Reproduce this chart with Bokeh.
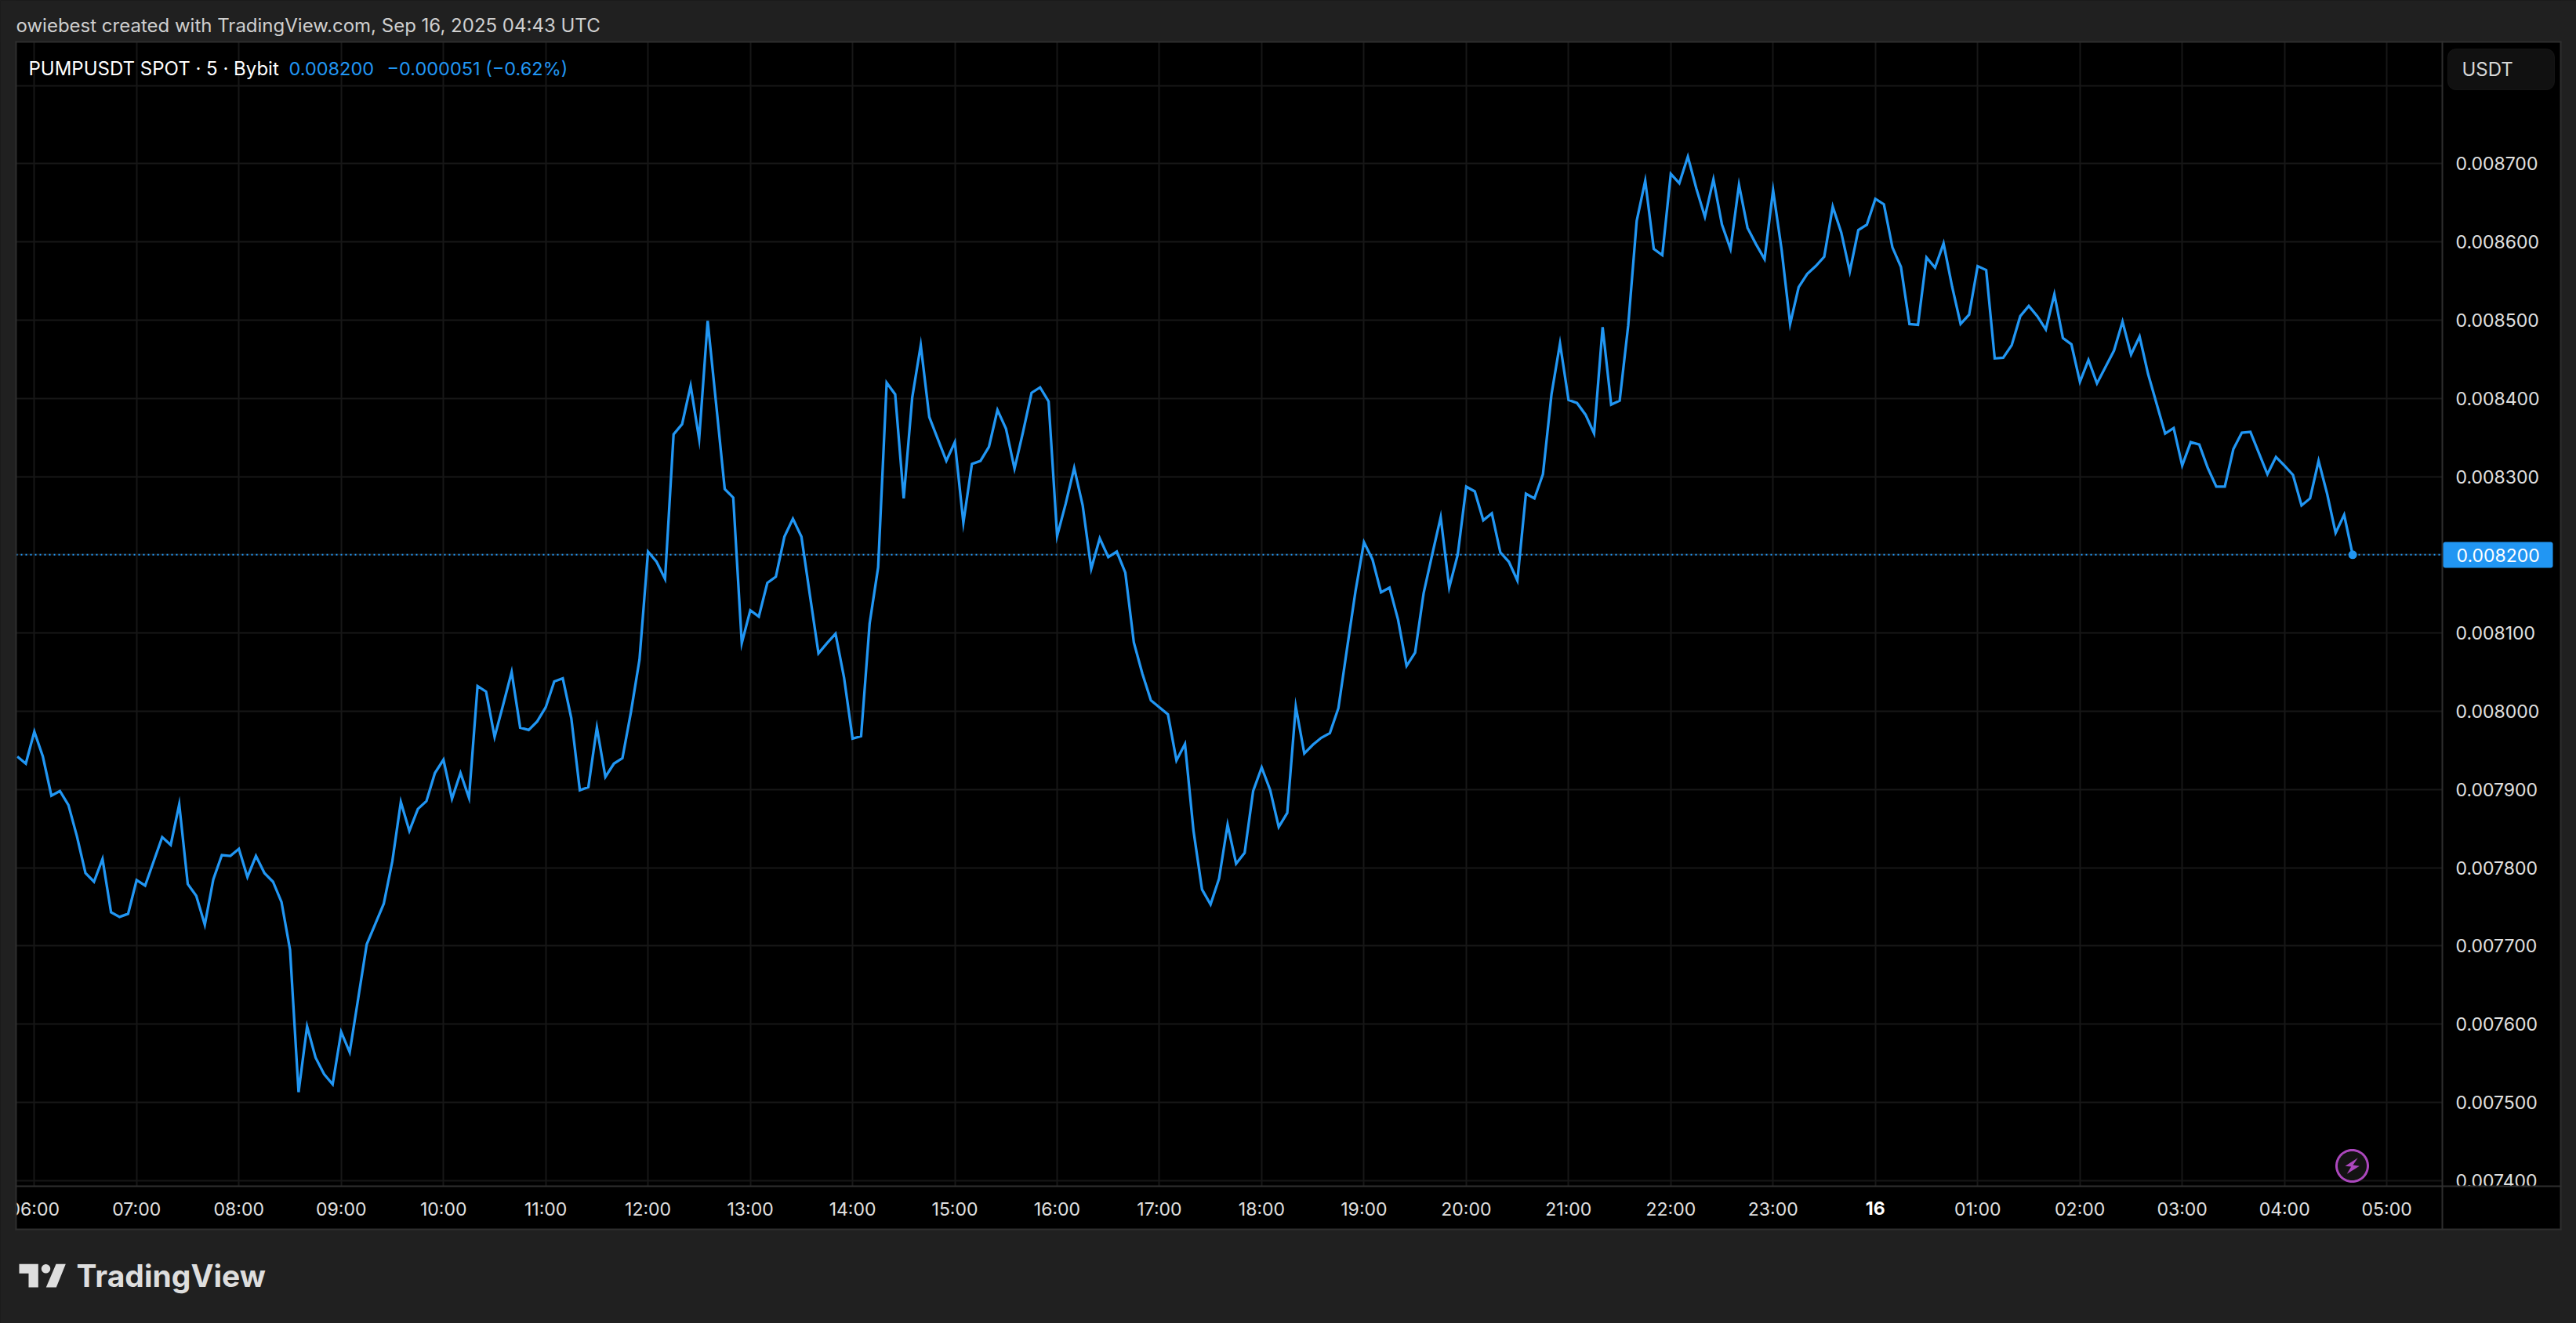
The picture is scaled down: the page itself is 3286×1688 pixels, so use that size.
import numpy as np
import pandas as pd
from bokeh.embed import file_html
from bokeh.models import (BoxAnnotation, ColumnDataSource, FixedTicker, Label, PolyAnnotation,
                          PrintfTickFormatter, Range1d, Span)
from bokeh.plotting import figure
from bokeh.resources import INLINE

# ---------- data (5-minute closes, starting 05:50 on Sep 15) ----------
start_time = "2025-09-15 05:50"
close = [
    0.007942, 0.007933, 0.007974, 0.007942, 0.007892, 0.007898, 0.007880, 0.007840, 0.007793, 0.007782,
    0.007811, 0.007743, 0.007737, 0.007741, 0.007784, 0.007777, 0.007808, 0.007839, 0.007829, 0.007881,
    0.007779, 0.007764, 0.007727, 0.007785, 0.007816, 0.007815, 0.007824, 0.007788, 0.007815, 0.007793,
    0.007782, 0.007756, 0.007695, 0.007513, 0.007597, 0.007557, 0.007536, 0.007523, 0.007590, 0.007564,
    0.007633, 0.007702, 0.007728, 0.007754, 0.007808, 0.007884, 0.007847, 0.007875, 0.007885, 0.007921,
    0.007938, 0.007888, 0.007921, 0.007889, 0.008032, 0.008025, 0.007967, 0.008008, 0.008050, 0.007979,
    0.007976, 0.007987, 0.008005, 0.008038, 0.008042, 0.007991, 0.007899, 0.007903, 0.007979, 0.007916,
    0.007933, 0.007940, 0.007999, 0.008066, 0.008204, 0.008191, 0.008169, 0.008354, 0.008367, 0.008416,
    0.008348, 0.008499, 0.008392, 0.008284, 0.008273, 0.008087, 0.008129, 0.008121, 0.008164, 0.008172,
    0.008223, 0.008246, 0.008223, 0.008148, 0.008074, 0.008087, 0.008099, 0.008043, 0.007965, 0.007968,
    0.008112, 0.008184, 0.008420, 0.008405, 0.008272, 0.008401, 0.008468, 0.008376, 0.008348, 0.008320,
    0.008344, 0.008241, 0.008316, 0.008320, 0.008338, 0.008385, 0.008361, 0.008310, 0.008357, 0.008407,
    0.008414, 0.008396, 0.008224, 0.008265, 0.008311, 0.008263, 0.008182, 0.008221, 0.008197, 0.008204,
    0.008177, 0.008088, 0.008048, 0.008014, 0.008005, 0.007996, 0.007937, 0.007958, 0.007847, 0.007772,
    0.007753, 0.007786, 0.007855, 0.007805, 0.007819, 0.007898, 0.007928, 0.007899, 0.007852, 0.007870,
    0.008006, 0.007946, 0.007957, 0.007966, 0.007972, 0.008004, 0.008079, 0.008153, 0.008216, 0.008194,
    0.008152, 0.008158, 0.008117, 0.008058, 0.008075, 0.008151, 0.008200, 0.008248, 0.008158, 0.008200,
    0.008287, 0.008281, 0.008244, 0.008253, 0.008203, 0.008191, 0.008167, 0.008278, 0.008272, 0.008303,
    0.008405, 0.008470, 0.008398, 0.008394, 0.008379, 0.008355, 0.008491, 0.008392, 0.008397, 0.008493,
    0.008627, 0.008678, 0.008591, 0.008583, 0.008687, 0.008675, 0.008709, 0.008668, 0.008632, 0.008680,
    0.008622, 0.008591, 0.008673, 0.008618, 0.008597, 0.008578, 0.008666, 0.008590, 0.008495, 0.008542,
    0.008559, 0.008569, 0.008581, 0.008645, 0.008612, 0.008562, 0.008615, 0.008622, 0.008655, 0.008648,
    0.008593, 0.008568, 0.008495, 0.008494, 0.008580, 0.008567, 0.008598, 0.008543, 0.008495, 0.008507,
    0.008569, 0.008564, 0.008451, 0.008452, 0.008468, 0.008505, 0.008518, 0.008505, 0.008488, 0.008533,
    0.008477, 0.008469, 0.008421, 0.008449, 0.008419, 0.008440, 0.008461, 0.008498, 0.008456, 0.008479,
    0.008431, 0.008393, 0.008355, 0.008362, 0.008314, 0.008344, 0.008341, 0.008311, 0.008287, 0.008287,
    0.008335, 0.008356, 0.008357, 0.008330, 0.008303, 0.008325, 0.008314, 0.008302, 0.008263, 0.008272,
    0.008320, 0.008278, 0.008228, 0.008251, 0.008200,
]
price_ticks = [0.0074, 0.0075, 0.0076, 0.0077, 0.0078, 0.0079, 0.0080, 0.0081, 0.0083, 0.0084, 0.0085, 0.0086, 0.0087]
price_grid = [0.0074, 0.0075, 0.0076, 0.0077, 0.0078, 0.0079, 0.0080, 0.0081, 0.0082, 0.0083, 0.0084, 0.0085, 0.0086, 0.0087, 0.0088]
hour_labels = ["06:00", "07:00", "08:00", "09:00", "10:00", "11:00", "12:00", "13:00", "14:00", "15:00",
               "16:00", "17:00", "18:00", "19:00", "20:00", "21:00", "22:00", "23:00", "16", "01:00",
               "02:00", "03:00", "04:00", "05:00"]
last_price_text = "0.008200"
change_text = "\u22120.000051 (\u22120.62%)"
title_text = "PUMPUSDT SPOT \u00b7 5 \u00b7 Bybit"
credit_text = "owiebest created with TradingView.com, Sep 16, 2025 04:43 UTC"

# ---------- style ----------
W, H = 3286, 1688
OUT, EDGE, GRID, BLUE = "#202020", "#2e2e2e", "#171717", "#2196f3"
FONT = "Inter"
STACK = {"position": "absolute", "left": "0px", "top": "0px"}

times = pd.date_range(start_time, periods=len(close), freq="5min")
hours = (times - pd.Timestamp("2025-09-15 06:00")) / pd.Timedelta("1h")
source = ColumnDataSource(dict(hours=np.asarray(hours, dtype=float), close=close))

L, R, T, B = 20, 3115, 53, 1513  # plot frame in page pixels
X0, XS = 43.3, 130.47
Y87, YS = 208.3, 99.8
x_range = Range1d((L - X0) / XS, (R - X0) / XS)
y_range = Range1d(0.0087 - (B - Y87) / YS * 0.0001, 0.0087 + (Y87 - T) / YS * 0.0001)

p = figure(width=W, height=H, output_backend="svg", toolbar_location=None,
           x_range=x_range, y_range=y_range, x_axis_location="below", y_axis_location="right",
           min_border_left=L, min_border_right=W - R, min_border_top=T,
           min_border_bottom=H - B, background_fill_color="#000000",
           border_fill_color="#000000", outline_line_color=None, styles=dict(STACK, zIndex="1"))

ax = p.xaxis[0]
ax.ticker = FixedTicker(ticks=[h for h, s in enumerate(hour_labels) if ":" in s])
ax.major_label_overrides = {h: s for h, s in enumerate(hour_labels) if ":" in s}
ay = p.yaxis[0]
ay.ticker = FixedTicker(ticks=price_ticks)
ay.formatter = PrintfTickFormatter(format="%.6f")
for a in (ax, ay):
    a.axis_line_color = None
    a.major_tick_line_color = None
    a.minor_tick_line_color = None
    a.major_label_text_font = FONT
    a.major_label_text_font_size = "23px"
    a.major_label_text_color = "#e0e0e0"
ax.major_label_standoff = 9
ay.major_label_standoff = 11

p.xgrid[0].ticker = FixedTicker(ticks=list(range(len(hour_labels))))
p.ygrid[0].ticker = FixedTicker(ticks=price_grid)
for g in (p.xgrid[0], p.ygrid[0]):
    g.grid_line_color = GRID
    g.grid_line_width = 2

p.add_layout(Span(location=close[-1], dimension="width", line_color=BLUE, line_width=2, line_dash="2 4"))
p.line("hours", "close", source=source, line_color=BLUE, line_width=3.3, line_join="miter")
p.scatter(x=[float(hours[-1])], y=[close[-1]], size=11, fill_color=BLUE, line_color=None)

# ---------- page furniture: a transparent sheet on top, whose frame is the whole page ----------
q = figure(width=W, height=H, output_backend="svg", toolbar_location=None,
           x_range=Range1d(0, W), y_range=Range1d(H, 0), x_axis_type=None, y_axis_type=None,
           min_border=0, background_fill_alpha=0, border_fill_alpha=0, outline_line_color=None,
           styles=dict(STACK, zIndex="2"))
q.grid.visible = False


def box(l, t, r, b, color, radius=0, edge=None):
    q.add_layout(BoxAnnotation(left=l, right=r, top=t, bottom=b,
                               left_units="canvas", right_units="canvas", top_units="canvas",
                               bottom_units="canvas", fill_color=color, fill_alpha=1,
                               line_color=edge, border_radius=radius))


def poly(pts, color):
    q.add_layout(PolyAnnotation(xs=[float(c[0]) for c in pts], ys=[float(c[1]) for c in pts],
                                xs_units="canvas", ys_units="canvas", fill_color=color,
                                fill_alpha=1, line_color=None))


def disc(cx, cy, r, color):
    a = np.linspace(0, 2 * np.pi, 72, endpoint=False)
    poly(list(zip(cx + r * np.cos(a), cy + r * np.sin(a))), color)


def text(x, y, s, color, size=24, align="left", style="normal", font=FONT):
    q.add_layout(Label(x=x, y=y, x_units="canvas", y_units="canvas", text=s,
                       text_color=color, text_font=font, text_font_size=f"{size}px",
                       text_align=align, text_baseline="middle", text_font_style=style))


# outer strips (they also clip the axis labels at the panel edge)
box(0, 0, 3286, T, OUT)
box(0, 0, L, 1688, OUT)
box(3266, 0, 3286, 1688, OUT)
box(0, 1568, 3286, 1688, OUT)
box(R + 1, B, 3265, 1567, "#000000")
# panel borders
box(L - 1, T - 1, 3267, T + 1, EDGE)
box(L - 1, T - 1, L + 1, 1569, EDGE)
box(3265, T - 1, 3267, 1569, EDGE)
box(L - 1, 1567, 3267, 1569, EDGE)
box(L - 1, B - 1, 3267, B + 1, EDGE)
box(R - 1, T - 1, R + 1, 1569, EDGE)

text(20, 32, credit_text, "#cfcfcf", 24)
text(36, 87, title_text, "#ffffff", 24)
text(368, 87, last_price_text, BLUE, 23.5)
text(493, 87, change_text, BLUE, 23.5)

box(3122, 62, 3258, 114, "#111111", radius=10, edge="#333333")
text(3140, 88, "USDT", "#d8d8d8", 24)

box(3116, 691, 3256, 724, BLUE, radius=3)
text(3133, 708, last_price_text, "#ffffff", 23)

text(X0 + 18 * XS, 1541, hour_labels[18], "#ffffff", 23, align="center", style="bold")

# lightning badge
disc(3000, 1487, 21.5, "#ab47bc")
disc(3000, 1487, 18.5, "#131313")
poly([(3007.3, 1476.7), (2991, 1487.3), (2998.7, 1488), (2993.3, 1497.3), (3009.3, 1487.3), (3001, 1486)], "#ab47bc")

# TradingView logo
poly([(24, 1612.3), (48.3, 1612.3), (48.3, 1642), (36, 1642), (36, 1624.3), (24, 1624.3)], "#dedede")
disc(58, 1618.3, 5.7, "#dedede")
poly([(71, 1612.3), (83.3, 1612.3), (71.3, 1642), (58.3, 1642)], "#dedede")
text(97, 1627, "TradingView", "#dedede", 39, style="bold")

html = file_html([p, q], INLINE)
html = html.replace("</head>", f"<style>html,body{{margin:0;background:{OUT};overflow:hidden}}</style></head>")
open("out.html", "w").write(html)
